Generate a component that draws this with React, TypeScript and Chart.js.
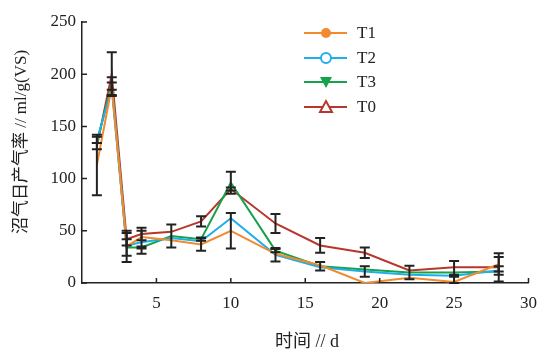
import React, { useEffect, useRef } from "react";
import { Chart, registerables } from "chart.js";

Chart.register(...registerables);

const days = [1, 2, 3, 4, 6, 8, 10, 13, 16, 19, 22, 25, 28];
const seriesNames = ["T1", "T2", "T3", "T0"];
const t1 = [113, 188, 35, 44, 41, 37, 50, 28, 17, 0, 5, 1, 18];
const t2 = [137, 186, 36, 39, 43, 40, 62, 27, 15, 11, 8, 7, 12];
const t3 = [134, 191, 34, 34, 45, 42, 96, 31, 16, 13, 10, 10, 11];
const t0 = [131, 200, 42, 47, 49, 59, 90, 57, 36, 29, 12, 15, 15];
const e1 = [29, 0, 15, 0, 0, 6, 17, 0, 0, 0, 0, 0, 7];
const e2 = [3, 6, 0, 11, 0, 0, 0, 6.5, 0, 5, 0, 1, 4];
const e3 = [0, 6, 8, 1, 11, 1.5, 10.5, 1.5, 4, 0, 6.5, 11, 0];
const e0 = [3, 21, 6, 6, 0, 5, 1.5, 9, 7, 5, 0, 0, 13.5];
const xTicks = [5, 10, 15, 20, 25, 30];
const yTicks = [0, 50, 100, 150, 200, 250];
const yTitle = "沼气日产气率 // ml/g(VS)";
const xTitle = "时间 // d";

const colors = ["#f28a2e", "#1eaee8", "#16a24b", "#b8372d"];
const markers = ["filledCircle", "openCircle", "downTriangle", "upTriangle"];
const FONT = "'Liberation Serif', 'Times New Roman', 'Noto Sans CJK SC', serif";

export default function App() {
  const ref = useRef<HTMLCanvasElement | null>(null);
  useEffect(() => {
    if (!ref.current) return;
    const values = [t1, t2, t3, t0];
    const errs = [e1, e2, e3, e0];

    const errorBars = {
      id: "errorBars",
      afterDatasetsDraw(chart: any) {
        const ctx = chart.ctx;
        const ys = chart.scales.y;
        ctx.save();
        ctx.strokeStyle = "#222";
        ctx.lineWidth = 2;
        values.forEach((vals, i) => {
          const meta = chart.getDatasetMeta(i);
          meta.data.forEach((pt: any, j: number) => {
            const e = errs[i][j];
            if (!e) return;
            const x = pt.x;
            const yt = ys.getPixelForValue(vals[j] + e);
            const yb = ys.getPixelForValue(Math.max(0, vals[j] - e));
            ctx.beginPath();
            ctx.moveTo(x, yt);
            ctx.lineTo(x, yb);
            ctx.moveTo(x - 5, yt);
            ctx.lineTo(x + 5, yt);
            ctx.moveTo(x - 5, yb);
            ctx.lineTo(x + 5, yb);
            ctx.stroke();
          });
        });
        ctx.restore();
      },
    };

    const decor = {
      id: "decor",
      afterDraw(chart: any) {
        const ctx = chart.ctx;
        const a = chart.chartArea;
        const xs = chart.scales.x;
        const ys = chart.scales.y;
        ctx.save();
        ctx.strokeStyle = "#222";
        ctx.lineWidth = 1.5;
        ctx.beginPath();
        yTicks.forEach((v) => {
          const y = ys.getPixelForValue(v);
          ctx.moveTo(a.left, y);
          ctx.lineTo(a.left + 5, y);
        });
        xTicks.forEach((v) => {
          const x = xs.getPixelForValue(v);
          ctx.moveTo(x, a.bottom);
          ctx.lineTo(x, a.bottom - 5);
        });
        ctx.stroke();

        // axis titles
        ctx.fillStyle = "#222";
        ctx.textAlign = "center";
        ctx.textBaseline = "middle";
        ctx.font = `18px ${FONT}`;
        ctx.fillText(xTitle, 307, 342);
        ctx.font = `17px ${FONT}`;
        ctx.save();
        ctx.translate(22, 142);
        ctx.rotate(-Math.PI / 2);
        ctx.fillText(yTitle, 0, 0);
        ctx.restore();

        // legend
        const lx0 = 304, lx1 = 347, mx = 326, tx = 357;
        const rows = [33, 58, 82, 107];
        ctx.font = `17px ${FONT}`;
        ctx.textAlign = "left";
        seriesNames.forEach((name, i) => {
          const y = rows[i];
          const c = colors[i];
          ctx.strokeStyle = c;
          ctx.fillStyle = c;
          ctx.lineWidth = 2;
          ctx.beginPath();
          ctx.moveTo(lx0, y);
          ctx.lineTo(lx1, y);
          ctx.stroke();
          const m = markers[i];
          ctx.beginPath();
          if (m === "filledCircle") {
            ctx.arc(mx, y, 5, 0, Math.PI * 2);
            ctx.fill();
          } else if (m === "openCircle") {
            ctx.arc(mx, y, 5, 0, Math.PI * 2);
            ctx.fillStyle = "#fff";
            ctx.fill();
            ctx.stroke();
          } else if (m === "downTriangle") {
            ctx.moveTo(mx - 6, y - 5);
            ctx.lineTo(mx + 6, y - 5);
            ctx.lineTo(mx, y + 6);
            ctx.closePath();
            ctx.fill();
          } else {
            ctx.moveTo(mx - 6, y + 5);
            ctx.lineTo(mx + 6, y + 5);
            ctx.lineTo(mx, y - 6);
            ctx.closePath();
            ctx.fillStyle = "#fff";
            ctx.fill();
            ctx.stroke();
          }
          ctx.fillStyle = "#222";
          ctx.fillText(name, tx, y + 1);
        });
        ctx.restore();
      },
    };

    const chart = new Chart(ref.current, {
      type: "line",
      data: {
        datasets: values.map((vals, i) => ({
          label: seriesNames[i],
          data: vals.map((v, j) => ({ x: days[j], y: v })),
          borderColor: colors[i],
          backgroundColor: colors[i],
          borderWidth: 2,
          pointRadius: 0,
          tension: 0,
          fill: false,
        })),
      },
      options: {
        responsive: false,
        animation: false,
        events: [],
        layout: { padding: { left: 0, top: 22, right: 9, bottom: 0 } },
        plugins: { legend: { display: false }, tooltip: { enabled: false } },
        scales: {
          x: {
            type: "linear",
            min: 0,
            max: 30,
            afterFit: (s: any) => {
              s.height = 68;
            },
            afterBuildTicks: (s: any) => {
              s.ticks = xTicks.map((v) => ({ value: v }));
            },
            ticks: {
              padding: 10,
              color: "#222",
              font: { family: FONT, size: 17 },
              maxRotation: 0,
            },
            grid: { display: true, drawOnChartArea: false, drawTicks: false },
            border: { display: true, color: "#222", width: 1.5 },
          },
          y: {
            type: "linear",
            min: 0,
            max: 250,
            afterFit: (s: any) => {
              s.width = 82;
            },
            afterBuildTicks: (s: any) => {
              s.ticks = yTicks.map((v) => ({ value: v }));
            },
            ticks: {
              padding: 6,
              color: "#222",
              font: { family: FONT, size: 17 },
            },
            grid: { display: true, drawOnChartArea: false, drawTicks: false },
            border: { display: true, color: "#222", width: 1.5 },
          },
        },
      },
      plugins: [errorBars, decor],
    });
    return () => chart.destroy();
  }, []);

  return (
    <div style={{ position: "fixed", left: 0, top: 0, width: 547, height: 351, background: "#fff" }}>
      <canvas ref={ref} width={547} height={351} />
    </div>
  );
}
